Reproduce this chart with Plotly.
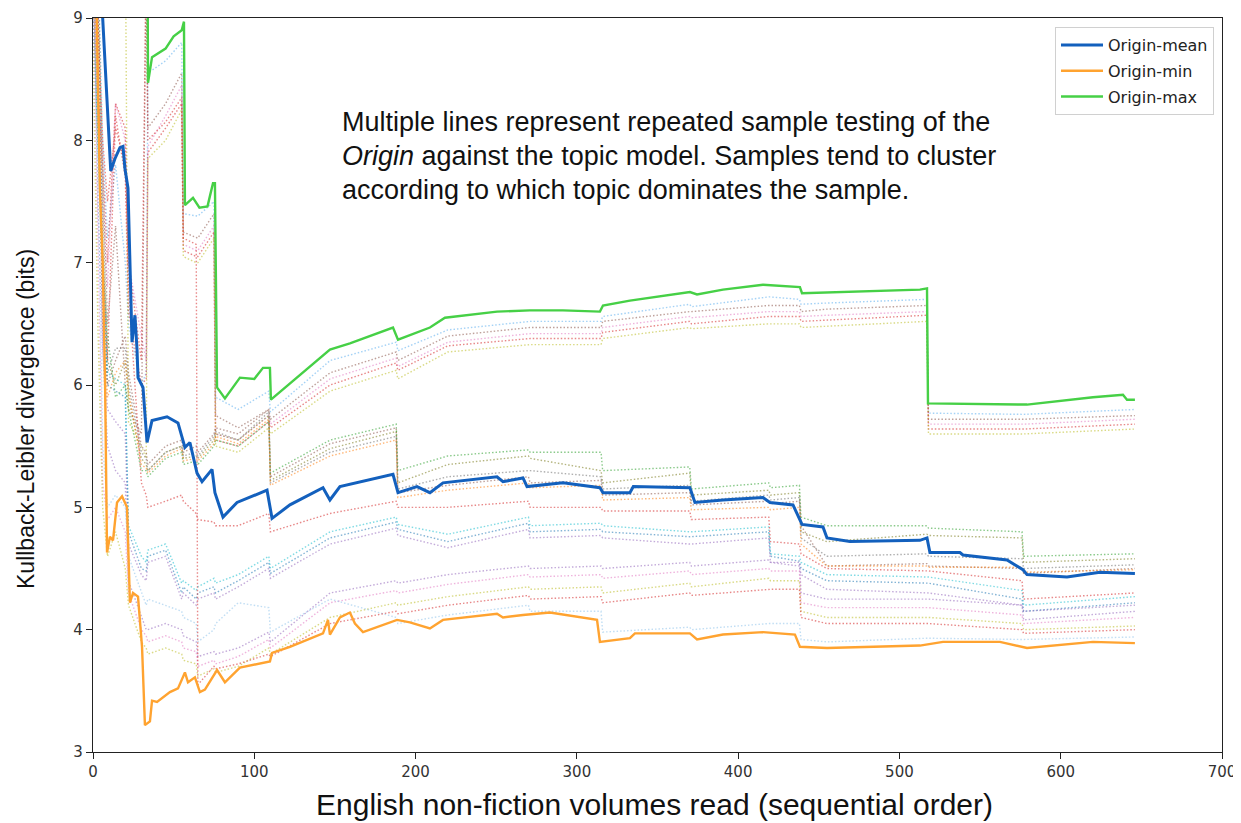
import plotly.graph_objects as go

# ---------------- data ----------------
# Origin-mean
mean_x = [0, 5, 8, 11, 13.6, 16.7, 18.6, 19.8, 21.7, 24.2, 26, 27.3, 27.9, 31, 33.5, 36.6, 45.9, 52.7,
          57, 60.1, 64.5, 67.6, 73.8, 75.6, 80.6, 89.3, 107.9, 111, 122.1, 142.6, 146.9, 153.1, 186,
          189.1, 200.9, 208.9, 217, 250.5, 254.2, 266.6, 269.1, 291.4, 314.3, 316.2, 332.9, 335,
          370.1, 373.2, 390.6, 415.4, 419.7, 434, 439.6, 452.6, 455.1, 469.3, 512.7, 517.1, 518.9,
          537.5, 539.4, 566.7, 576.6, 579.1, 603.9, 624.3, 646]
mean_y = [10.5, 9.2, 8.5, 7.75, 7.85, 7.94, 7.95, 7.77, 7.61, 6.35, 6.57, 6.29, 6.06, 5.98, 5.53, 5.71, 5.74, 5.69,
          5.49, 5.53, 5.28, 5.21, 5.31, 5.12, 4.92, 5.04, 5.14, 4.91, 5.02, 5.16, 5.06, 5.17, 5.27,
          5.12, 5.17, 5.12, 5.2, 5.25, 5.21, 5.24, 5.17, 5.2, 5.16, 5.12, 5.12, 5.17,
          5.16, 5.04, 5.06, 5.08, 5.04, 5.02, 4.86, 4.84, 4.75, 4.72, 4.73, 4.75, 4.63,
          4.63, 4.61, 4.57, 4.49, 4.45, 4.43, 4.47, 4.46]

# Origin-min
min_x = [0, 2, 4.3, 6, 7.5, 8.7, 10.5, 12.4, 14.9, 18, 21.1, 22.9, 24.8, 27.9, 30.4, 32.2, 35.3, 36.6,
         39.7, 47.7, 52.7, 57, 58.9, 63.2, 66.3, 69.4, 76.9, 81.8, 91.1, 101.7, 109.7, 111, 122.1,
         142.6, 145.7, 146.9, 153.1, 159.3, 162.4, 167.4, 188.5, 196.5, 208.9, 217, 250.5, 254.2,
         266.6, 283.3, 312.5, 314.3, 332.9, 336, 370.1, 374.5, 390.6, 415.4, 435.2, 438.3, 455.1,
         512.7, 527, 562.3, 579.1, 620, 646]
min_y = [10, 9.3, 7.6, 7.0, 6.0, 4.63, 4.76, 4.73, 5.04, 5.09, 5.0, 4.22, 4.3, 4.27, 3.86, 3.22, 3.25, 3.42,
         3.41, 3.49, 3.52, 3.65, 3.57, 3.61, 3.49, 3.51, 3.67, 3.57, 3.69, 3.72, 3.74, 3.81, 3.86,
         3.97, 4.08, 3.96, 4.1, 4.14, 4.05, 3.98, 4.08, 4.06, 4.01, 4.08, 4.13, 4.1,
         4.12, 4.14, 4.08, 3.9, 3.93, 3.97, 3.97, 3.92, 3.96, 3.98, 3.96, 3.86, 3.85,
         3.87, 3.9, 3.9, 3.85, 3.9, 3.89]

# Origin-max
max_x = [0, 33.5, 34.1, 36.6, 45, 50, 55, 56.4, 57, 62, 66, 71, 72.6, 74.4, 75.6, 76.9, 81.8, 91.1,
         100, 105.4, 109.7, 110.3, 146.9, 159.3, 186, 189.1, 208.9, 218.2, 250.5, 270.9, 291.4,
         314.3, 316.2, 332.9, 370.1, 374.5, 390.6, 415.4, 438.3, 439.6, 512.7, 517.1, 517.7,
         579.1, 620, 638.6, 641.1, 646]
max_y = [11, 10.5, 8.47, 8.68, 8.75, 8.85, 8.9, 8.97, 7.47, 7.53, 7.45, 7.46, 7.55, 7.65, 7.65, 5.98, 5.89, 6.06,
         6.05, 6.14, 6.14, 5.88, 6.29, 6.34, 6.47, 6.37, 6.47, 6.55, 6.6, 6.61, 6.61,
         6.6, 6.65, 6.69, 6.76, 6.74, 6.78, 6.82, 6.8, 6.75, 6.78, 6.79, 5.85,
         5.84, 5.9, 5.92, 5.88, 5.88]

# Repeated samples (dotted lines), all on one x grid
sample_x = [0, 3, 6, 9, 14, 20, 22, 30, 33, 34, 45, 55, 56, 64, 65, 75, 76, 90, 109, 110,
            147, 188, 189, 220, 270, 271, 315, 316, 370, 371, 419, 420, 438, 439, 455, 517, 518, 576, 577, 646]

t1 = [10.5, 9.5, 8.0, 7.2, 7.8, 7.0, 6.5, 6.0, 6.1, 8.55, 8.65, 8.8, 7.4, 7.38, 7.38, 7.5, 5.9, 5.8, 5.95, 5.78,
      6.2, 6.35, 6.28, 6.45, 6.52, 6.52, 6.52, 6.56, 6.66, 6.64, 6.72, 6.72, 6.7, 6.66, 6.67, 6.7, 5.77, 5.76, 5.76, 5.8]
t2 = [9.8, 8.7, 7.5, 6.8, 8.3, 8.0, 7.0, 6.4, 6.2, 7.95, 8.2, 8.45, 7.15, 7.1, 7.1, 7.3, 5.6, 5.55, 5.75, 5.68,
      6.05, 6.22, 6.15, 6.35, 6.42, 6.42, 6.42, 6.47, 6.56, 6.55, 6.6, 6.6, 6.6, 6.56, 6.57, 6.6, 5.68, 5.68, 5.68, 5.72]
t3 = [11, 9.0, 7.8, 6.5, 7.3, 6.0, 5.8, 5.6, 9.5, 8.1, 8.3, 8.55, 7.25, 7.2, 7.2, 7.4, 5.75, 5.65, 5.8, 5.72,
      6.1, 6.27, 6.2, 6.4, 6.47, 6.47, 6.47, 6.52, 6.6, 6.6, 6.65, 6.65, 6.65, 6.6, 6.62, 6.65, 5.72, 5.72, 5.72, 5.75]
t4 = [9.3, 8.2, 7.0, 6.2, 8.2, 7.7, 6.6, 6.0, 6.05, 7.9, 8.1, 8.3, 7.1, 7.05, 7.05, 7.25, 5.55, 5.5, 5.7, 5.65,
      6.0, 6.18, 6.12, 6.32, 6.38, 6.38, 6.38, 6.43, 6.52, 6.5, 6.56, 6.56, 6.56, 6.52, 6.53, 6.57, 5.64, 5.64, 5.64, 5.68]
t5 = [11, 10.5, 10.2, 10, 9.9, 9.8, 5.7, 5.5, 5.4, 7.85, 8.0, 8.25, 7.05, 7.0, 7.0, 7.2, 5.5, 5.45, 5.65, 5.6,
      5.95, 6.12, 6.05, 6.27, 6.33, 6.33, 6.33, 6.38, 6.47, 6.46, 6.5, 6.5, 6.5, 6.47, 6.48, 6.52, 5.6, 5.6, 5.6, 5.64]
u1 = [9.6, 8.5, 6.5, 6.0, 6.2, 6.4, 6.1, 5.5, 5.45, 5.35, 5.5, 5.55, 5.45, 5.5, 5.45, 5.6, 5.65, 5.6, 5.8, 5.25,
      5.52, 5.65, 5.12, 5.18, 5.25, 5.2, 5.22, 5.1, 5.12, 5.02, 5.05, 5.03, 5.05, 4.85, 4.52, 4.54, 4.52, 4.5, 4.46, 4.5]
u2 = [10.5, 9.5, 7.5, 6.2, 6.0, 6.2, 5.9, 5.4, 5.35, 5.3, 5.45, 5.5, 5.4, 5.42, 5.4, 5.55, 5.6, 5.55, 5.75, 5.22,
      5.48, 5.62, 5.2, 5.35, 5.42, 5.4, 5.3, 5.2, 5.28, 5.1, 5.14, 5.1, 5.12, 4.8, 4.72, 4.78, 4.77, 4.75, 4.55, 4.58]
u3 = [9.2, 8.0, 7.0, 6.4, 5.9, 6.0, 5.8, 5.3, 5.3, 5.25, 5.4, 5.45, 5.35, 5.38, 5.35, 5.5, 5.55, 5.5, 5.7, 5.28,
      5.55, 5.68, 5.3, 5.42, 5.47, 5.45, 5.45, 5.3, 5.33, 5.15, 5.2, 5.16, 5.18, 4.92, 4.85, 4.85, 4.83, 4.8, 4.6, 4.62]
u4 = [10, 9.1, 7.2, 6.1, 6.3, 6.3, 6.0, 5.45, 5.4, 5.3, 5.45, 5.5, 5.42, 5.45, 5.42, 5.58, 5.62, 5.55, 5.78, 5.2,
      5.45, 5.58, 5.15, 5.25, 5.3, 5.3, 5.25, 5.15, 5.18, 5.05, 5.1, 5.06, 5.08, 4.75, 4.6, 4.62, 4.6, 4.58, 4.5, 4.53]
u5 = [9.4, 8.3, 6.8, 5.9, 6.1, 6.2, 5.95, 5.35, 5.32, 5.28, 5.42, 5.48, 5.38, 5.4, 5.38, 5.52, 5.58, 5.52, 5.72, 5.18,
      5.42, 5.55, 5.08, 5.14, 5.2, 5.16, 5.18, 5.06, 5.08, 4.98, 5.0, 4.98, 5.0, 4.7, 4.52, 4.52, 4.51, 4.51, 4.47, 4.49]
m1 = [9.4, 8.8, 7.0, 6.0, 5.95, 5.9, 4.8, 4.5, 4.48, 4.6, 4.65, 4.3, 4.35, 4.25, 4.3, 4.35, 4.3, 4.4, 4.55, 4.46,
      4.75, 4.88, 4.82, 4.72, 4.87, 4.8, 4.82, 4.8, 4.76, 4.76, 4.8, 4.6, 4.56, 4.5, 4.4, 4.38, 4.38, 4.25, 4.15, 4.22]
m2 = [9.0, 8.0, 6.8, 6.1, 6.05, 6.0, 4.85, 4.6, 4.55, 4.65, 4.7, 4.38, 4.4, 4.32, 4.35, 4.42, 4.38, 4.45, 4.6, 4.5,
      4.8, 4.92, 4.86, 4.78, 4.92, 4.85, 4.87, 4.85, 4.8, 4.8, 4.84, 4.62, 4.6, 4.55, 4.45, 4.43, 4.43, 4.32, 4.2, 4.27]
m3 = [9.9, 8.4, 7.8, 7.0, 8.3, 8.1, 6.8, 5.2, 5.1, 5.0, 5.05, 5.1, 5.05, 4.95, 4.9, 4.88, 4.85, 4.85, 4.95, 4.8,
      4.95, 5.05, 5.0, 5.0, 5.05, 5.0, 5.0, 4.97, 4.97, 4.9, 4.92, 4.72, 4.7, 4.62, 4.5, 4.48, 4.48, 4.4, 4.25, 4.3]
m4 = [10.2, 9.3, 6.3, 5.8, 5.7, 5.6, 4.7, 4.45, 4.4, 4.55, 4.6, 4.25, 4.3, 4.2, 4.25, 4.3, 4.25, 4.35, 4.5, 4.42,
      4.7, 4.83, 4.77, 4.67, 4.82, 4.75, 4.77, 4.75, 4.7, 4.7, 4.75, 4.55, 4.52, 4.45, 4.33, 4.3, 4.3, 4.2, 4.08, 4.15]
l1 = [9.7, 7.5, 6.3, 5.5, 5.3, 5.2, 4.4, 4.1, 4.0, 4.0, 4.05, 4.0, 3.95, 3.9, 3.78, 3.82, 3.8, 3.85, 3.98, 3.9,
      4.3, 4.4, 4.38, 4.45, 4.52, 4.5, 4.52, 4.5, 4.55, 4.52, 4.57, 4.55, 4.55, 4.3, 4.25, 4.25, 4.25, 4.2, 4.15, 4.2]
l2 = [9.2, 7.2, 5.2, 4.9, 5.0, 4.8, 4.3, 4.0, 3.95, 3.9, 3.95, 3.9, 3.85, 3.82, 3.7, 3.75, 3.72, 3.78, 3.92, 3.85,
      4.22, 4.32, 4.3, 4.37, 4.45, 4.43, 4.45, 4.42, 4.48, 4.45, 4.5, 4.48, 4.48, 4.22, 4.18, 4.18, 4.18, 4.12, 4.05, 4.1]
l3 = [8.8, 6.5, 5.0, 4.6, 4.8, 4.5, 4.2, 3.9, 3.85, 3.8, 3.85, 3.8, 3.75, 3.72, 3.62, 3.68, 3.65, 3.7, 3.85, 3.8,
      4.1, 4.22, 4.2, 4.27, 4.35, 4.33, 4.35, 4.3, 4.38, 4.35, 4.42, 4.4, 4.4, 4.15, 4.1, 4.1, 4.1, 4.05, 4.0, 4.03]
l4 = [9.5, 7.8, 5.5, 5.0, 5.1, 5.0, 4.6, 4.3, 4.2, 4.25, 4.2, 4.15, 4.1, 4.05, 3.9, 4.0, 4.05, 4.22, 4.18, 3.98,
      4.25, 4.1, 4.05, 4.12, 4.2, 4.15, 4.15, 3.98, 4.02, 4.0, 4.05, 4.05, 4.05, 3.92, 3.9, 3.93, 3.93, 3.92, 3.92, 3.94]
l5 = [10, 9, 8, 7.5, 8.1, 7.8, 7.0, 6.2, 9.5, 8.0, 8.15, 8.35, 7.2, 7.15, 3.55, 3.7, 3.68, 3.72, 3.8, 3.78,
      4.05, 4.15, 4.13, 4.2, 4.28, 4.25, 4.27, 4.22, 4.3, 4.28, 4.33, 4.33, 4.33, 4.1, 4.05, 4.05, 4.05, 4.0, 3.97, 4.0]

samples = [t1, t2, t3, t4, t5, u1, u2, u3, u4, u5, m1, m2, m3, m4, l1, l2, l3, l4, l5]
sample_colors = ["#5aaef0", "#e377c2", "#8c564b", "#d62728", "#bcbd22",
                 "#8c564b", "#7a7a1a", "#2ca02c", "#6f6f6f", "#ff7f0e",
                 "#1f77b4", "#17becf", "#d62728", "#9467bd",
                 "#9467bd", "#e377c2", "#bcbd22", "#8fc4ec", "#d62728"]

x_ticks = [0, 100, 200, 300, 400, 500, 600, 700]
y_ticks = [3, 4, 5, 6, 7, 8, 9]

note_lines = ["Multiple lines represent repeated sample testing of the",
              "<i>Origin</i> against the topic model. Samples tend to cluster",
              "according to which topic dominates the sample."]
x_title = "English non-fiction volumes read (sequential order)"
y_title = "Kullback-Leibler divergence (bits)"

# ---------------- figure ----------------
# page body has an 8px margin: figure is sized so that the plot box lands at
# x 93..1222, y 18..752 of the 1241x823 window
W, H = 1233, 815
ML, MR, MT, MB = 85, 19, 10, 71
PW, PH = W - ML - MR, H - MT - MB

fig = go.Figure()

for ys, col in zip(samples, sample_colors):
    fig.add_trace(go.Scatter(x=sample_x, y=ys, mode="lines", showlegend=False, hoverinfo="skip",
                             line=dict(color=col, width=1.4, dash="1.5px,2px"), opacity=0.55))

fig.add_trace(go.Scatter(x=mean_x, y=mean_y, mode="lines", name="Origin-mean", legendgroup="a",
                         line=dict(color="#1360bd", width=3)))
fig.add_trace(go.Scatter(x=min_x, y=min_y, mode="lines", name="Origin-min", legendgroup="b",
                         line=dict(color="#ffa330", width=2.4)))
fig.add_trace(go.Scatter(x=max_x, y=max_y, mode="lines", name="Origin-max", legendgroup="c",
                         line=dict(color="#46d046", width=2.4)))

title_font = "Liberation Sans, Arial, Helvetica, sans-serif"
for i, t in enumerate(note_lines):
    fig.add_annotation(text=t, xref="paper", yref="paper", x=(340 - 93) / PW,
                       y=1 - (122 + 34 * i - 18) / PH, xanchor="left", yanchor="middle",
                       showarrow=False, align="left",
                       font=dict(family=title_font, size=27, color="#111111"))

fig.add_annotation(text=x_title, xref="paper", yref="paper", x=(654 - 93) / PW,
                   y=-(804 - 752) / PH, xanchor="center", yanchor="middle", showarrow=False,
                   font=dict(family=title_font, size=30, color="#111111"))
fig.add_annotation(text=y_title, xref="paper", yref="paper", x=-(93 - 26) / PW,
                   y=1 - (419 - 18) / PH, xanchor="center", yanchor="middle", showarrow=False,
                   textangle=-90, font=dict(family=title_font, size=23, color="#111111"))

axis_common = dict(showline=True, linecolor="#222222", linewidth=1.2, mirror=True, ticks="outside",
                   ticklen=6, tickcolor="#222222", showgrid=False, zeroline=False, automargin=False,
                   tickfont=dict(family="DejaVu Sans, sans-serif", size=15, color="#333333"))

fig.update_xaxes(range=[0, 700], tickvals=x_ticks, **axis_common)
fig.update_yaxes(range=[3, 9], tickvals=y_ticks, **axis_common)

fig.update_layout(
    width=W, height=H,
    margin=dict(l=ML, r=MR, t=MT, b=MB),
    paper_bgcolor="white", plot_bgcolor="white",
    legend=dict(x=(1214 - 93) / PW, y=1 - 9 / PH, xanchor="right", yanchor="top", bgcolor="white",
                bordercolor="#d0d0d0", borderwidth=1, tracegroupgap=2, itemwidth=42,
                font=dict(family="DejaVu Sans, sans-serif", size=16, color="#222222")),
)

fig.write_html("out.html")
